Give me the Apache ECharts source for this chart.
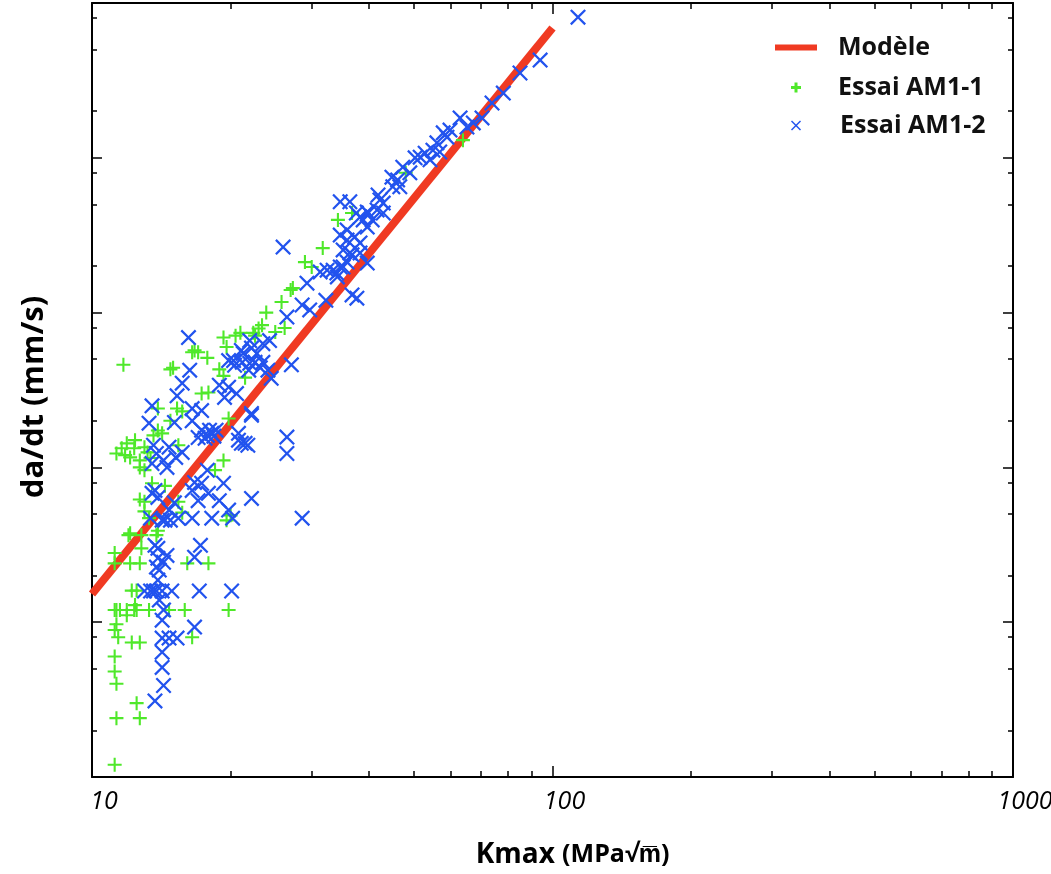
<!DOCTYPE html>
<html>
<head>
<meta charset="utf-8">
<script src="https://cdn.jsdelivr.net/npm/echarts@6/dist/echarts.min.js"></script>
<style>
html,body{margin:0;padding:0;background:#fff;}
#chart{width:1051px;height:874px;}
</style>
</head>
<body>
<div id="chart"></div>
<script>
// ---- tick values & labels ----
const kmaxMajorTicks = [10, 100, 1000];
const kmaxTickLabels = ['10', '100', '1000'];
const kmaxMinorTicks = [20, 30, 40, 50, 60, 70, 80, 90, 200, 300, 400, 500, 600, 700, 800, 900];
const rateMajorTicks = [1e-5, 1e-4, 1e-3, 1e-2, 1e-1, 1];
const rateMinorTicks = [2e-5, 5e-5, 8e-5, 2e-4, 5e-4, 8e-4, 2e-3, 5e-3, 8e-3, 2e-2, 5e-2, 8e-2, 2e-1, 5e-1, 8e-1];

// ---- series names ----
const seriesNames = ['Modèle', 'Essai AM1-1', 'Essai AM1-2'];

// ---- model line: [Kmax, da/dt] ----
const modelLine = [[10, 1.52e-4], [100, 0.69]];

// ---- Essai AM1-1: [Kmax, da/dt] ----
const essaiAM11 = [
  [11.2,1.2e-5],[11.3,2.4e-5],[12.7,2.4e-5],[12.5,3.0e-5],[11.3,4.0e-5],[11.2,4.8e-5],[11.2,6.0e-5],
  [12.2,7.4e-5],[12.7,7.4e-5],[11.4,8.0e-5],[11.2,8.9e-5],[11.3,9.7e-5],[16.5,8.0e-5],
  [11.2,1.2e-4],[11.3,1.2e-4],[11.5,1.2e-4],[11.9,1.2e-4],[12.35,1.2e-4],[12.5,1.2e-4],[13.3,1.2e-4],
  [14.7,1.2e-4],[15.9,1.2e-4],[19.8,1.2e-4],[11.9,1.11e-4],[12.4,1.29e-4],[12.2,1.6e-4],[12.5,1.6e-4],
  [11.2,2.4e-4],[12.1,2.4e-4],[12.7,2.4e-4],[16.1,2.4e-4],[17.9,2.4e-4],[11.2,2.8e-4],[12.8,3.0e-4],
  [12.0,3.65e-4],[12.8,3.65e-4],[13.8,3.65e-4],[13.9,3.9e-4],[12.1,3.75e-4],[13.3,4.7e-4],[15.4,6.0e-4],
  [15.7,5.1e-4],[13.0,6.0e-4],[13.5,7.9e-4],[19.6,4.55e-4],[20.0,4.9e-4],[14.4,7.6e-4],[13.0,5.2e-4],
  [12.7,6.2e-4],[13.0,9.6e-4],
  [11.7,4.6e-3],[14.8,4.3e-3],[16.5,5.55e-3],[17.0,5.55e-3],[17.8,5.1e-3],[19.3,6.9e-3],[20.5,7.1e-3],
  [22.6,7.1e-3],[23.0,7.9e-3],[18.9,4.3e-3],[19.3,3.9e-3],[21.5,3.8e-3],[15.3,2.4e-3],[15.7,2.3e-3],
  [14.8,2.0e-3],[14.2,1.66e-3],[13.9,1.73e-3],[13.6,1.61e-3],[11.9,1.43e-3],[12.35,1.33e-3],[11.3,1.23e-3],
  [11.8,1.2e-3],[12.1,1.16e-3],[12.7,1.11e-3],[13.0,1.35e-3],[13.2,1.25e-3],[12.7,1.0e-3],[15.4,1.39e-3],
  [17.3,3.0e-3],[17.9,3.05e-3],[19.8,2.07e-3],[19.3,1.11e-3],[18.5,9.6e-4],[13.9,2.4e-3],[11.6,1.33e-3],
  [12.4,1.5e-3],[13.4,1.15e-3],
  [23.9,1.0e-2],[25.8,1.17e-2],[27.3,1.44e-2],[27.0,1.4e-2],[29.0,2.12e-2],[30.0,1.97e-2],[31.7,2.61e-2],
  [34.2,3.97e-2],[36.7,4.4e-2],[26.2,7.95e-3],[25.0,7.5e-3],[23.4,8.3e-3],[22.4,7.4e-3],[21.0,7.4e-3],
  [19.6,6.0e-3],[16.7,5.7e-3],[15.0,4.4e-3],[48.0,8.0e-2],[63.9,1.3e-1]
];

// ---- Essai AM1-2: [Kmax, da/dt] ----
const essaiAM12 = [
  [13.7,3.1e-5],[14.3,3.9e-5],[14.2,5.1e-5],[14.2,6.4e-5],[14.2,7.9e-5],[14.7,7.9e-5],[15.3,7.9e-5],
  [16.7,9.3e-5],[14.2,1.03e-4],[14.3,1.2e-4],[14.0,1.39e-4],[13.0,1.59e-4],[13.4,1.59e-4],[13.6,1.59e-4],
  [13.8,1.59e-4],[14.2,1.59e-4],[14.9,1.59e-4],[17.1,1.59e-4],[20.1,1.59e-4],[13.9,1.87e-4],[14.0,2.17e-4],
  [13.8,2.27e-4],[14.3,2.44e-4],[13.9,2.59e-4],[16.7,2.63e-4],[17.2,3.14e-4],[13.7,3.14e-4],[13.9,3.0e-4],
  [14.55,2.7e-4],[14.2,4.56e-4],[14.8,4.56e-4],[16.5,4.7e-4],[18.2,4.7e-4],[20.2,4.7e-4],[28.6,4.7e-4],
  [22.2,6.3e-4],[13.4,4.7e-4],[14.4,4.56e-4],[15.4,4.7e-4],[15.1,5.9e-4],[14.7,5.3e-4],[13.7,7.1e-4],
  [13.9,6.4e-4],[13.5,6.8e-4],[17.8,9.6e-4],[17.3,7.9e-4],[17.9,6.8e-4],[19.3,7.9e-4],[18.9,6.1e-4],
  [17.0,6.1e-4],[16.5,7.1e-4],[16.7,8.0e-4],[19.8,5.3e-4],
  [16.2,6.9e-3],[16.3,4.25e-3],[15.7,3.5e-3],[13.5,2.5e-3],[15.3,2.9e-3],[13.3,1.93e-3],[15.1,1.95e-3],
  [16.5,2.0e-3],[17.3,1.74e-3],[17.8,1.61e-3],[18.2,1.66e-3],[18.6,1.74e-3],[17.0,1.56e-3],[17.6,1.54e-3],
  [18.0,1.74e-3],[18.4,1.59e-3],[13.6,1.39e-3],[13.8,1.23e-3],[14.3,1.11e-3],[13.5,1.06e-3],[14.7,1.35e-3],
  [15.2,1.16e-3],[14.55,1.0e-3],[15.7,1.25e-3],[16.5,2.4e-3],[17.3,2.33e-3],[18.9,3.4e-3],[19.8,3.3e-3],
  [20.6,3.0e-3],[19.4,2.83e-3],[20.4,4.57e-3],[21.2,4.77e-3],[21.9,4.25e-3],[22.6,4.77e-3],[21.3,5.45e-3],
  [22.2,5.9e-3],[19.8,4.9e-3],[20.8,1.66e-3],[21.5,1.43e-3],[20.8,1.5e-3],[22.2,2.23e-3],[27.1,4.6e-3],
  [24.5,3.76e-3],[22.2,2.17e-3],[21.8,1.39e-3],[21.1,1.43e-3],[26.5,1.57e-3],[26.5,1.23e-3],[22.0,6.6e-3],
  [23.5,6.3e-3],[24.3,6.6e-3],[21.1,5.7e-3],[22.8,5.45e-3],[20.3,4.9e-3],[22.0,4.7e-3],[23.5,4.77e-3],
  [24.1,4.25e-3],[23.2,4.4e-3],
  [26.0,2.65e-2],[34.6,5.2e-2],[36.3,5.2e-2],[37.5,4.4e-2],[38.8,3.97e-2],[39.6,4.47e-2],[34.6,3.17e-2],
  [35.8,2.94e-2],[37.2,3.08e-2],[38.2,2.82e-2],[35.1,2.54e-2],[36.7,2.36e-2],[35.8,2.12e-2],[34.6,1.97e-2],
  [33.4,1.88e-2],[34.1,1.7e-2],[32.4,1.88e-2],[31.3,1.83e-2],[29.3,1.55e-2],[36.7,1.3e-2],[37.6,1.24e-2],
  [28.6,1.12e-2],[29.7,1.04e-2],[26.5,9.35e-3],[32.2,1.2e-2],
  [113.6,8.1e-1],[94.0,4.28e-1],[85.0,3.53e-1],[78.2,2.62e-1],[73.9,2.26e-1],[70.3,1.81e-1],[67.3,1.68e-1],
  [63.0,1.81e-1],[65.2,1.58e-1],[59.9,1.51e-1],[57.9,1.45e-1],[59.0,1.36e-1],[56.1,1.25e-1],[56.9,1.09e-1],
  [55.0,1.12e-1],[52.9,1.07e-1],[51.6,1.01e-1],[54.2,9.7e-2],[50.3,1.0e-1],[49.0,8.0e-2],[47.3,8.7e-2],
  [46.1,7.2e-2],[44.8,7.5e-2],[46.6,6.5e-2],[45.0,6.5e-2],[41.8,5.75e-2],[42.9,5.1e-2],[41.6,4.6e-2],
  [39.8,4.4e-2],[40.6,3.97e-2],[42.9,4.4e-2],[42.2,5.34e-2],[38.2,4.14e-2],[39.6,3.57e-2],[35.8,3.42e-2],
  [36.3,2.43e-2],[38.2,2.43e-2],[35.1,1.97e-2],[34.0,1.8e-2],[39.6,2.09e-2]
];

// ---- styling ----
const RED = '#f03a22';
const GREEN = '#4fe82a';
const BLUE = '#2253ee';
const FONT = "'Open Sans', 'Liberation Sans', sans-serif";
const PLUS = 'path://M8.5,0H11.5V8.5H20V11.5H11.5V20H8.5V11.5H0V8.5H8.5Z';
const PLUS_BOLD = 'path://M7,0H13V7H20V13H13V20H7V13H0V7H7Z';
const CROSS = 'path://M0,2L2,0L10,8L18,0L20,2L12,10L20,18L18,20L10,12L2,20L0,18L8,10Z';

function frameAxis(type, position, min, max, ticks, tickLen, showLine, extra) {
  return Object.assign({
    type: 'log', logBase: 10, min: min, max: max, position: position,
    axisLine: { show: showLine, onZero: false, lineStyle: { color: '#000', width: 2 } },
    axisTick: { show: true, inside: true, length: tickLen, customValues: ticks,
                lineStyle: { color: '#000', width: 1.5 } },
    axisLabel: { show: false },
    splitLine: { show: false },
    minorTick: { show: false },
    minorSplitLine: { show: false }
  }, extra || {});
}

const xMain = frameAxis('x', 'bottom', 10, 1000, kmaxMajorTicks, 11, true, {
  axisLabel: {
    show: true, customValues: kmaxMajorTicks,
    formatter: function (v) { const i = kmaxMajorTicks.indexOf(Math.round(v)); return i >= 0 ? kmaxTickLabels[i] : ''; },
    fontFamily: FONT, fontSize: 25, fontStyle: 'italic', color: '#000', margin: 12,
    padding: [0, 0, 0, 24]
  },
  name: '{k|Kmax }{u|(MPa√m\u0305)}',
  nameLocation: 'middle',
  nameGap: 64,
  nameTextStyle: {
    color: '#000', padding: [0, 0, 0, 40],
    rich: {
      k: { fontFamily: FONT, fontSize: 28, fontWeight: 'bold', color: '#000' },
      u: { fontFamily: FONT, fontSize: 25, fontWeight: 'bold', color: '#000' }
    }
  }
});

const option = {
  animation: false,
  backgroundColor: '#fff',
  textStyle: { fontFamily: FONT },
  grid: { left: 92, right: 38, top: 3, bottom: 97, containLabel: false, outerBoundsMode: 'none' },
  legend: [
    { data: [seriesNames[0]], left: 775, top: 35, padding: 0, itemWidth: 42, itemHeight: 6, icon: 'rect',
      textStyle: { fontFamily: FONT, fontSize: 25, fontWeight: 'bold', color: '#111', padding: [0, 0, 0, 16] } },
    { data: [seriesNames[1]], left: 791, top: 75, padding: 0, itemWidth: 10, itemHeight: 10, icon: PLUS_BOLD,
      textStyle: { fontFamily: FONT, fontSize: 25, fontWeight: 'bold', color: '#111', padding: [0, 0, 0, 32] } },
    { data: [seriesNames[2]], left: 791, top: 113, padding: 0, itemWidth: 10, itemHeight: 10, icon: CROSS,
      textStyle: { fontFamily: FONT, fontSize: 25, fontWeight: 'bold', color: '#111', padding: [0, 0, 0, 34] } }
  ],
  xAxis: [
    xMain,
    frameAxis('x', 'bottom', 10, 1000, kmaxMinorTicks, 6, false),
    frameAxis('x', 'top', 10, 1000, kmaxMajorTicks, 11, true),
    frameAxis('x', 'top', 10, 1000, kmaxMinorTicks, 6, false)
  ],
  yAxis: [
    frameAxis('y', 'left', 1e-5, 1, rateMajorTicks, 10, true, {
      name: 'da/dt (mm/s)', nameLocation: 'middle', nameGap: 42,
      nameTextStyle: { fontFamily: FONT, fontSize: 31, fontWeight: 'bold', color: '#000', padding: [0, 14, 0, 0] }
    }),
    frameAxis('y', 'left', 1e-5, 1, rateMinorTicks, 5, false),
    frameAxis('y', 'right', 1e-5, 1, rateMajorTicks, 10, true),
    frameAxis('y', 'right', 1e-5, 1, rateMinorTicks, 5, false)
  ],
  series: [
    { type: 'line', name: seriesNames[0], data: modelLine, xAxisIndex: 0, yAxisIndex: 0,
      symbol: 'none', showSymbol: false, color: RED, silent: true, z: 2,
      itemStyle: { color: RED }, lineStyle: { color: RED, width: 8, cap: 'butt' } },
    { type: 'scatter', name: seriesNames[1], data: essaiAM11, xAxisIndex: 0, yAxisIndex: 0,
      symbol: PLUS, symbolSize: 14, color: GREEN, z: 3,
      itemStyle: { color: GREEN, opacity: 1 } },
    { type: 'scatter', name: seriesNames[2], data: essaiAM12, xAxisIndex: 0, yAxisIndex: 0,
      symbol: CROSS, symbolSize: 16, color: BLUE, z: 4,
      itemStyle: { color: BLUE, opacity: 1 } }
  ]
};

const chart = echarts.init(document.getElementById('chart'), null, { renderer: 'canvas' });
chart.setOption(option);
</script>
</body>
</html>
